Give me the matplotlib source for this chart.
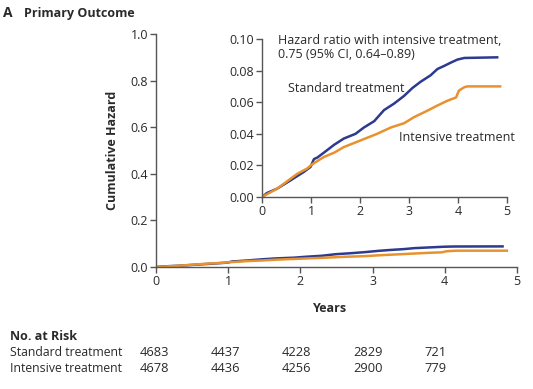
import matplotlib
matplotlib.use("Agg")
import matplotlib.pyplot as plt

plt.rcParams['font.family'] = ['Open Sans', 'DejaVu Sans']

std_t = [0, 0.1, 0.31, 0.58, 0.85, 0.99, 1.06, 1.13, 1.26, 1.47, 1.67, 1.91, 2.08, 2.29, 2.49,
         2.69, 2.9, 3.07, 3.24, 3.44, 3.58, 3.72, 3.85, 3.99, 4.13, 4.8]
std_h = [0, 0.0025, 0.0053, 0.0105, 0.0158, 0.019, 0.024, 0.025, 0.028, 0.033, 0.037, 0.040,
         0.044, 0.048, 0.055, 0.059, 0.064, 0.069, 0.073, 0.077, 0.081, 0.083, 0.085, 0.087,
         0.088, 0.0884]
int_t = [0, 0.31, 0.72, 0.92, 1.02, 1.26, 1.47, 1.67, 2.01, 2.35, 2.63, 2.9, 3.1, 3.38, 3.58,
         3.79, 3.96, 4.02, 4.13, 4.19, 4.86]
int_h = [0, 0.0053, 0.0147, 0.018, 0.0206, 0.0253, 0.028, 0.0316, 0.0358, 0.040, 0.044, 0.0467,
         0.0505, 0.0547, 0.0579, 0.061, 0.063, 0.0674, 0.0695, 0.070, 0.070]

risk_years = [0, 1, 2, 3, 4]
risk_std = [4683, 4437, 4228, 2829, 721]
risk_int = [4678, 4436, 4256, 2900, 779]

BLUE = '#2c3a8f'
ORANGE = '#e8922f'
AX = '#555555'
TXT = '#2a2a2a'

fig = plt.figure(figsize=(5.33, 3.89), dpi=100)

def style(ax, fs):
    for s in ['top', 'right']:
        ax.spines[s].set_visible(False)
    for s in ['left', 'bottom']:
        ax.spines[s].set_color(AX)
        ax.spines[s].set_linewidth(1.0)
    ax.tick_params(direction='out', length=4, width=1.0, color=AX, labelsize=fs,
                   labelcolor=TXT, pad=1.5)

ax = fig.add_axes([156/533, 1-267/389, (517-156)/533, (267-34)/389])
ax.plot(std_t, std_h, color=BLUE, lw=1.8, solid_joinstyle='round')
ax.plot(int_t, int_h, color=ORANGE, lw=1.8, solid_joinstyle='round')
ax.set_xlim(0, 5)
ax.set_ylim(0, 1.0)
ax.set_xticks([0, 1, 2, 3, 4, 5])
ax.set_yticks([0, 0.2, 0.4, 0.6, 0.8, 1.0])
ax.set_yticklabels(['0.0', '0.2', '0.4', '0.6', '0.8', '1.0'])
style(ax, 9)
ax.patch.set_alpha(0)

ins = fig.add_axes([262/533, 1-197/389, (507-262)/533, (197-39)/389])
ins.plot(std_t, std_h, color=BLUE, lw=1.8, solid_joinstyle='round')
ins.plot(int_t, int_h, color=ORANGE, lw=1.8, solid_joinstyle='round')
ins.set_xlim(0, 5)
ins.set_ylim(0, 0.10)
ins.set_xticks([0, 1, 2, 3, 4, 5])
ins.set_yticks([0, 0.02, 0.04, 0.06, 0.08, 0.10])
ins.set_yticklabels(['0.00', '0.02', '0.04', '0.06', '0.08', '0.10'])
style(ins, 9)
ins.patch.set_facecolor('white')

def fx(px):
    return px / 533
def fy(py):
    return 1 - py / 389

fig.text(fx(3), fy(13), 'A', fontsize=10, fontweight='bold', color=TXT, va='center')
fig.text(fx(24), fy(13), 'Primary Outcome', fontsize=9, fontweight='bold', color=TXT, va='center')
fig.text(fx(113), fy(150), 'Cumulative Hazard', fontsize=9, fontweight='bold', color=TXT,
         rotation=90, ha='center', va='center')
fig.text(fx(330), fy(308), 'Years', fontsize=9, fontweight='bold', color=TXT, ha='center', va='center')

fig.text(fx(278), fy(40), 'Hazard ratio with intensive treatment,', fontsize=9, color=TXT, va='center')
fig.text(fx(278), fy(54), '0.75 (95% CI, 0.64\u20130.89)', fontsize=9, color=TXT, va='center')
fig.text(fx(288), fy(88), 'Standard treatment', fontsize=9, color=TXT, va='center')
fig.text(fx(399), fy(137), 'Intensive treatment', fontsize=9, color=TXT, va='center')

fig.text(fx(10), fy(336), 'No. at Risk', fontsize=9, fontweight='bold', color=TXT, va='center')
fig.text(fx(10), fy(353), 'Standard treatment', fontsize=8.8, color=TXT, va='center')
fig.text(fx(10), fy(369), 'Intensive treatment', fontsize=8.8, color=TXT, va='center')
for i, yr in enumerate(risk_years):
    xp = 140 + 71 * yr
    fig.text(fx(xp), fy(353), str(risk_std[i]), fontsize=9.3, color=TXT, va='center')
    fig.text(fx(xp), fy(369), str(risk_int[i]), fontsize=9.3, color=TXT, va='center')

fig.savefig('out.png', dpi=100)
